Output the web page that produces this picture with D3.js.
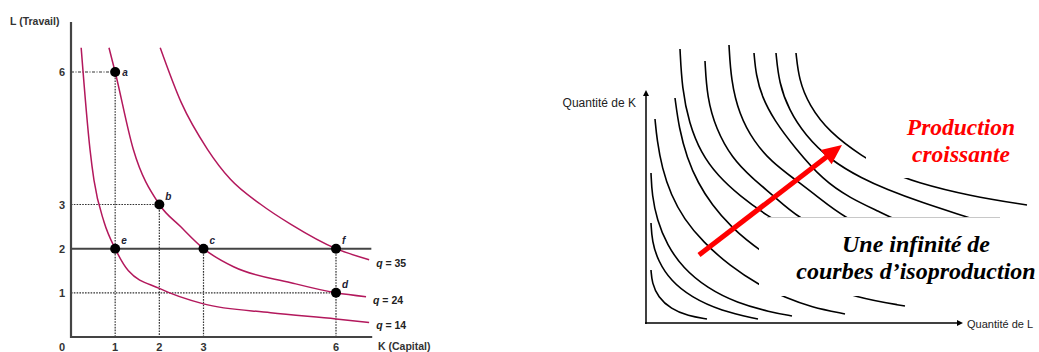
<!DOCTYPE html>
<html><head><meta charset="utf-8">
<script src="https://cdn.jsdelivr.net/npm/d3@7"></script>
<style>html,body{margin:0;padding:0;background:#fff;}svg{display:block;}</style>
</head><body>
<script>
// ---------- LEFT CHART DATA (K = capital, L = travail) ----------
const kTicks = [0, 1, 2, 3, 6];
const lTicks = [1, 2, 3, 6];
const curveNames = ["q = 35", "q = 24", "q = 14"];
const q35 = [[2.02,6.55],[2.5,5.3],[3.09,4.25],[3.61,3.57],[4.3,3.0],[4.98,2.55],[6,2],[6.75,1.75]];
const q24 = [[0.86,6.55],[1,6],[1.41,4.25],[2,3],[2.48,2.5],[3,2],[3.68,1.59],[4.98,1.23],[6,1],[6.68,0.91]];
const q14 = [[0.23,6.55],[0.43,4.25],[0.52,3.55],[0.75,2.6],[1,2],[1.3,1.5],[2,1.1],[3,0.75],[4.52,0.55],[6,0.41],[6.75,0.33]];
const pointNames = ["a","b","c","d","e","f"];
const pointK = [1, 2, 3, 6, 1, 6];
const pointL = [6, 3, 2, 1, 2, 2];
const hGuideL = [6, 3, 1];      // dotted horizontal guides (to point)
const hGuideK = [1, 2, 6];
const vGuideK = [1, 2, 3, 6];   // dotted vertical guides (from point)
const vGuideL = [6, 3, 2, 2];
const refL = 2;                 // solid horizontal line

// ---------- RIGHT CHART DATA (offsets along L and K axes) ----------
const isoCurves = [
  [[5,53],[6,40],[12,26],[25,14],[42,7],[61,4]],
  [[5,100],[6,82],[12,62],[25,42],[45,26],[75,12],[112,4]],
  [[5,150],[6,128],[11,103],[21,78],[37,55],[61,35],[91,20],[124,11],[146,7]],
  [[9,204],[11,183],[16,155],[25,128],[38,104],[57,81],[84,57],[113,38],[140,25],[165,16],[199,9]],
  [[29,225],[33,195],[41,165],[52,140],[66,118],[84,97],[113,72],[164,42],[211,25],[259,17]],
  [[34,274],[36,235],[43,200],[55,170],[72,147],[94,127],[120,108],[150,90],[190,70],[234,53]],
  [[59,262],[61,226],[70,194],[86,165],[106,145],[129,126],[151,106],[194,83],[234,68]],
  [[83,278],[85,243],[93,209],[108,181],[126,161],[147,145],[172,126],[197,106],[244,83],[284,71]],
  [[108,270],[110,248],[116,226],[128,203],[149,175],[177,143],[204,125],[234,111],[254,101],[294,85]],
  [[130,270],[133,240],[143,213],[159,188],[184,163],[217,144],[240,134],[274,121],[321,106],[354,95]],
  [[150,270],[153,243],[163,218],[183,191],[217,166],[244,151],[269,141],[324,127],[381,118]]
];
const arrowFrom = [53, 68];
const arrowTo = [196, 178];
const labelProd = ["Production", "croissante"];
const labelInf = ["Une infinité de", "courbes d\u2019isoproduction"];

const W = 1039, H = 352;
const svg = d3.select("body").append("svg").attr("width", W).attr("height", H)
  .style("font-family", "'Liberation Sans', Arial, sans-serif");
svg.append("rect").attr("width", W).attr("height", H).attr("fill", "#fff");

// ================= LEFT CHART =================
const x = d3.scaleLinear().domain([0, 6]).range([71, 336]);
const y = d3.scaleLinear().domain([0, 6]).range([337, 72]);
const L = svg.append("g");
const curveCol = "#b3185c";
const guideCol = "#333";

hGuideL.forEach((l, i) => {
  L.append("line").attr("x1", x(0)).attr("x2", x(hGuideK[i])).attr("y1", y(l)).attr("y2", y(l))
    .attr("stroke", guideCol).attr("stroke-width", 1.2)
    .attr("stroke-dasharray", i === 0 ? "3,1.5,1,1.5" : "1.6,1.2");
});
vGuideK.forEach((k, i) => {
  L.append("line").attr("x1", x(k)).attr("x2", x(k)).attr("y1", y(vGuideL[i])).attr("y2", y(0))
    .attr("stroke", guideCol).attr("stroke-width", 1.2).attr("stroke-dasharray", "1.6,1.2");
});
L.append("line").attr("x1", x(0)).attr("x2", x(6.8)).attr("y1", y(refL)).attr("y2", y(refL))
  .attr("stroke", "#444").attr("stroke-width", 2);

const line = d3.line().x(d => x(d[0])).y(d => y(d[1])).curve(d3.curveMonotoneX);
[q35, q24, q14].forEach((c, i) => {
  L.append("path").attr("d", line(c)).attr("fill", "none").attr("stroke", curveCol).attr("stroke-width", 1.5);
  const last = c[c.length - 1];
  const t = L.append("text").attr("x", x(last[0]) + 7).attr("y", y(last[1]) + 7)
    .attr("font-size", 10.5).attr("font-weight", "bold").attr("fill", "#222");
  const parts = curveNames[i].split(" ");
  t.append("tspan").attr("font-style", "italic").text(parts[0]);
  t.append("tspan").text(" " + parts.slice(1).join(" "));
});

L.append("line").attr("x1", x(0)).attr("x2", x(0)).attr("y1", 22).attr("y2", y(0) + 1)
  .attr("stroke", "#444").attr("stroke-width", 2.2);
L.append("line").attr("x1", x(0) - 1).attr("x2", x(6.82)).attr("y1", y(0)).attr("y2", y(0))
  .attr("stroke", "#444").attr("stroke-width", 2.2);
kTicks.forEach(k => {
  L.append("text").attr("x", k === 0 ? 62 : x(k)).attr("y", 351).attr("text-anchor", "middle")
    .attr("font-size", 11).attr("font-weight", "bold").attr("fill", "#333").text(k);
});
lTicks.forEach(l => {
  L.append("text").attr("x", 62).attr("y", y(l) + 4).attr("text-anchor", "middle")
    .attr("font-size", 11).attr("font-weight", "bold").attr("fill", "#333").text(l);
});
L.append("text").attr("x", 10).attr("y", 25).attr("font-size", 10.5).attr("font-weight", "bold")
  .attr("fill", "#333").text("L (Travail)");
L.append("text").attr("x", 378).attr("y", 349.5).attr("font-size", 10.5).attr("font-weight", "bold")
  .attr("fill", "#333").text("K (Capital)");

pointNames.forEach((n, i) => {
  L.append("circle").attr("cx", x(pointK[i])).attr("cy", y(pointL[i])).attr("r", 5).attr("fill", "#000");
  const dx = n === "a" ? 7 : 6, dy = n === "a" ? 4 : -5;
  L.append("text").attr("x", x(pointK[i]) + dx).attr("y", y(pointL[i]) + dy)
    .attr("font-size", 10).attr("font-style", "italic").attr("font-weight", "bold").attr("fill", "#223").text(n);
});

// ================= RIGHT CHART =================
const ox = 646, oy = 323;
const rx = d3.scaleLinear().domain([0, 317]).range([ox, ox + 317]);
const ry = d3.scaleLinear().domain([0, 233]).range([oy, oy - 233]);
const R = svg.append("g");
const rline = d3.line().x(d => rx(d[0])).y(d => ry(d[1])).curve(d3.curveBasis);
isoCurves.forEach(c => {
  R.append("path").attr("d", rline(c)).attr("fill", "none").attr("stroke", "#000").attr("stroke-width", 1.6);
});

R.append("rect").attr("x", 759).attr("y", 217).attr("width", W - 759).attr("height", 79).attr("fill", "#fff");
R.append("line").attr("x1", 767).attr("x2", 1000).attr("y1", 217.5).attr("y2", 217.5)
  .attr("stroke", "#c8c8c8").attr("stroke-width", 1);
R.append("rect").attr("x", 866).attr("y", 60).attr("width", W - 866).attr("height", 118).attr("fill", "#fff");

R.append("line").attr("x1", rx(0)).attr("x2", rx(0)).attr("y1", ry(0) + 1).attr("y2", ry(233) + 4)
  .attr("stroke", "#000").attr("stroke-width", 1.5);
R.append("path").attr("d", `M${rx(0)-3},${ry(233)+6}L${rx(0)},${ry(233)}L${rx(0)+3},${ry(233)+6}Z`).attr("fill", "#000");
R.append("line").attr("x1", rx(0) - 1).attr("x2", rx(317) - 4).attr("y1", ry(0)).attr("y2", ry(0))
  .attr("stroke", "#000").attr("stroke-width", 1.5);
R.append("path").attr("d", `M${rx(317)-6},${ry(0)-3}L${rx(317)},${ry(0)}L${rx(317)-6},${ry(0)+3}Z`).attr("fill", "#000");
R.append("text").attr("x", 636).attr("y", 107).attr("text-anchor", "end").attr("font-size", 12)
  .attr("fill", "#222").text("Quantité de K");
R.append("text").attr("x", 967).attr("y", 328).attr("font-size", 11)
  .attr("fill", "#222").text("Quantité de L");

const ax1 = rx(arrowFrom[0]), ay1 = ry(arrowFrom[1]), ax2 = rx(arrowTo[0]), ay2 = ry(arrowTo[1]);
const ang = Math.atan2(ay2 - ay1, ax2 - ax1);
const headL = 20, headW = 9;
const bx = ax2 - headL * Math.cos(ang), by = ay2 - headL * Math.sin(ang);
R.append("line").attr("x1", ax1).attr("y1", ay1).attr("x2", bx + 2 * Math.cos(ang)).attr("y2", by + 2 * Math.sin(ang))
  .attr("stroke", "#ff0000").attr("stroke-width", 5);
R.append("path").attr("d",
  `M${ax2},${ay2}L${bx + headW * Math.sin(ang)},${by - headW * Math.cos(ang)}L${bx - headW * Math.sin(ang)},${by + headW * Math.cos(ang)}Z`)
  .attr("fill", "#ff0000");

const serif = "'Liberation Serif', 'Times New Roman', serif";
labelProd.forEach((t, i) => {
  R.append("text").attr("x", 961).attr("y", 135 + i * 27).attr("text-anchor", "middle")
    .attr("font-family", serif).attr("font-size", 23.5).attr("font-weight", "bold").attr("font-style", "italic")
    .attr("fill", "#ff0000").text(t);
});
labelInf.forEach((t, i) => {
  R.append("text").attr("x", 916).attr("y", 252 + i * 27).attr("text-anchor", "middle")
    .attr("font-family", serif).attr("font-size", 24).attr("font-weight", "bold").attr("font-style", "italic")
    .attr("fill", "#000").text(t);
});
</script>
</body></html>
